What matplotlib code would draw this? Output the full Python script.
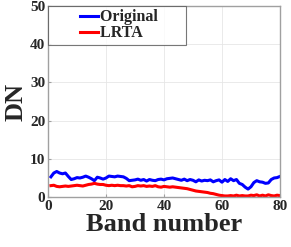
import matplotlib.pyplot as plt
import numpy as np

plt.rcParams['font.family'] = ['Liberation Serif', 'DejaVu Serif']
plt.rcParams['font.weight'] = 'bold'

bands = np.arange(1, 81)
original = [5.3, 6.3, 6.7, 6.3, 6.1, 6.3, 5.4, 4.6, 4.8, 5.1,
            5.0, 5.2, 5.5, 5.2, 4.8, 4.3, 5.2, 5.0, 4.7, 5.0,
            5.5, 5.4, 5.3, 5.5, 5.4, 5.3, 4.9, 4.3, 4.4, 4.5,
            4.7, 4.4, 4.6, 4.2, 4.6, 4.4, 4.3, 4.6, 4.7, 4.5,
            4.8, 4.9, 5.0, 4.8, 4.6, 4.4, 4.7, 4.3, 4.6, 4.4,
            4.0, 4.5, 4.2, 4.4, 4.3, 4.5, 4.0, 4.3, 4.5, 3.9,
            4.6, 4.1, 4.8, 4.3, 4.6, 3.6, 3.3, 2.6, 2.1, 2.7,
            3.8, 4.3, 4.0, 3.9, 3.6, 3.7, 4.6, 5.0, 5.1, 5.4]
lrta = [3.0, 3.1, 2.8, 2.7, 2.8, 2.9, 2.8, 2.9, 3.0, 3.1,
        3.0, 2.9, 3.1, 3.3, 3.4, 3.6, 3.4, 3.3, 3.3, 3.1,
        3.0, 3.1, 3.0, 3.1, 3.0, 3.0, 2.9, 3.0, 2.7, 2.8,
        3.0, 2.9, 3.0, 2.8, 2.9, 2.8, 3.0, 2.7, 2.6, 2.8,
        2.7, 2.6, 2.7, 2.6, 2.5, 2.4, 2.3, 2.2, 2.0, 1.8,
        1.6, 1.5, 1.4, 1.3, 1.2, 1.0, 0.9, 0.7, 0.5, 0.4,
        0.3, 0.3, 0.4, 0.3, 0.5, 0.3, 0.4, 0.3, 0.3, 0.5,
        0.4, 0.6, 0.3, 0.5, 0.3, 0.6, 0.4, 0.3, 0.5, 0.4]

fig = plt.figure(figsize=(2.91, 2.47), dpi=100)
ax = fig.add_axes([0.165, 0.202, 0.797, 0.774])

ax.plot(bands, original, color='#0000ff', lw=2.2, label='Original')
ax.plot(bands, lrta, color='#ff0000', lw=2.2, label='LRTA')

ax.set_xlim(0, 80)
ax.set_ylim(0, 50)
ax.set_xticks([0, 20, 40, 60, 80])
ax.set_yticks([0, 10, 20, 30, 40, 50])
ax.grid(True, color='#e6e6e6', lw=0.6)
ax.set_axisbelow(True)
for s in ax.spines.values():
    s.set_color('#a0a0a0')
    s.set_linewidth(1.0)
ax.tick_params(direction='in', length=2, color='#a0a0a0', labelsize=11,
               labelcolor='#262626', pad=2)
for lab in ax.get_xticklabels() + ax.get_yticklabels():
    lab.set_fontweight('bold')

ax.set_xlabel('Band number', fontsize=19, fontweight='bold', color='#262626', labelpad=0)
ax.set_ylabel('DN', fontsize=19, fontweight='bold', color='#262626', labelpad=2)

# matlab style legend: wide box, short lines pushed to the right
leg = ax.legend(loc='upper left', bbox_to_anchor=(0.0, 1.0), fontsize=11.5,
                frameon=True, fancybox=False, handlelength=2.9, handletextpad=0.15,
                borderpad=0.22, labelspacing=0.0, borderaxespad=0.0)
leg.get_frame().set_edgecolor('#555555')
leg.get_frame().set_linewidth(0.8)
for t in leg.get_texts():
    t.set_fontweight('bold')
    t.set_color('#262626')
    t.set_text(t.get_text() + '\u00a0' * 6)
for ln in leg.get_lines():
    xd = np.asarray(ln.get_xdata(), dtype=float)
    x0, x1 = xd.min(), xd.max()
    ln.set_xdata([x0 + 0.62 * (x1 - x0), x1])
    ln.set_ydata([ln.get_ydata()[0]] * 2)

fig.savefig('out.png', dpi=100)
